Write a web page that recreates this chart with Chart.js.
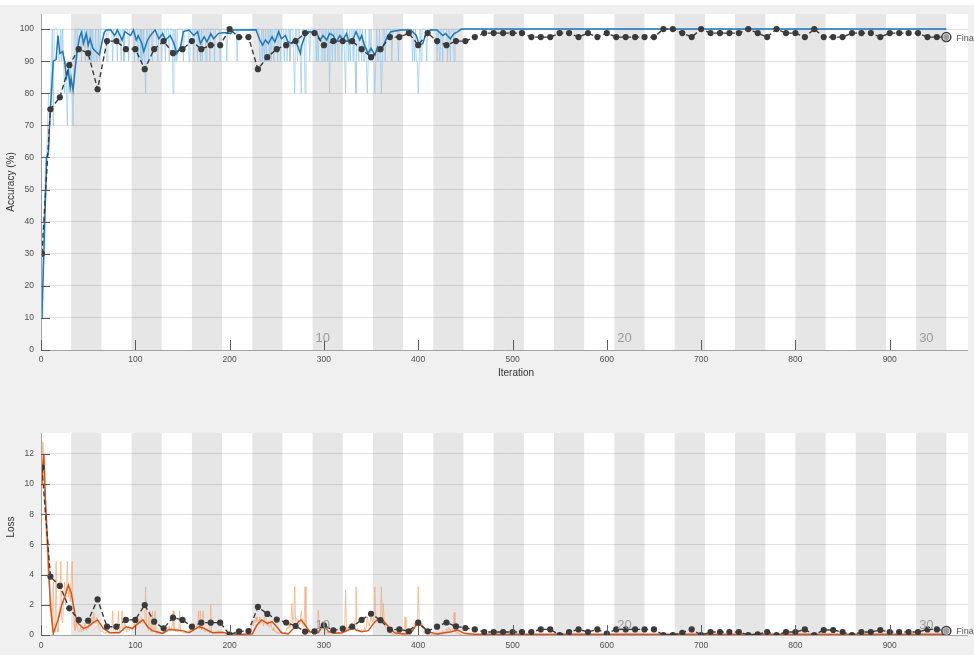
<!DOCTYPE html>
<html>
<head>
<meta charset="utf-8">
<script src="https://cdn.jsdelivr.net/npm/chart.js@4/dist/chart.umd.min.js"></script>
<style>
  html, body { margin: 0; padding: 0; background: #f0f0f0; }
  #wrap { position: relative; width: 974px; height: 655px; overflow: hidden; background: #f0f0f0; }
  #topStrip { position: absolute; left: 0; top: 0; width: 974px; height: 5px; background: #ffffff; }
  #accBox { position: absolute; left: 0; top: 0; width: 974px; height: 390px; }
  #lossBox { position: absolute; left: 0; top: 420px; width: 974px; height: 235px; }
</style>
</head>
<body>
<div id="wrap">
  <div id="topStrip"></div>
  <div id="accBox"><canvas id="accChart" width="974" height="390"></canvas></div>
  <div id="lossBox"><canvas id="lossChart" width="974" height="235"></canvas></div>
</div>
<script>
// ---- training setup ----
const itersPerEpoch = 32;
const numEpochs = 30;
const validationFrequency = 10;
const epochLabels = [10, 20, 30];

// ---- axis ticks ----
const iterTicks = [0, 100, 200, 300, 400, 500, 600, 700, 800, 900];
const accTicks = [0, 10, 20, 30, 40, 50, 60, 70, 80, 90, 100];
const lossTicks = [0, 2, 4, 6, 8, 10, 12];

// ---- mini-batch accuracy (%), one row per epoch, epochs 1-14 ----
const trainAccRawEpochs = [
  [10,30,40,50,60,60,70,80,80,80, 90,100,70,100,100,100,100,100,90,90, 100,90,100,90,80,90,80,70,90,80, 90,80],
  [80,70,90,100,100,90,100,100,100,100, 90,100,100,100,90,100,100,90,100,100, 90,90,100,90,90,100,90,90,100,90, 100,100],
  [100,100,100,100,100,90,100,100,100,100, 100,90,100,100,100,100,90,100,100,100, 90,100,100,90,100,100,100,100,90,100, 100,100],
  [100,100,90,100,100,100,90,100,100,90, 100,90,100,90,80,100,100,90,100,100, 100,90,100,100,100,100,100,90,100,100, 100,90],
  [100,100,100,90,100,100,100,90,100,100, 100,80,100,90,100,90,100,100,100,100, 100,100,90,100,100,100,100,100,90,100, 100,100],
  [100,90,100,100,100,90,100,100,90,100, 90,100,100,100,90,100,100,100,90,100, 100,100,100,90,100,100,100,100,100,90, 100,100],
  [100,100,100,100,90,100,100,100,100,100, 100,100,100,100,100,90,100,100,100,100, 100,100,100,100,100,100,100,100,100,100, 100,100],
  [100,100,100,100,100,100,100,90,90,100, 90,100,90,100,90,100,100,90,100,90, 100,100,90,100,100,100,90,100,100,90, 100,100],
  [100,90,100,100,90,100,100,90,100,100, 100,90,80,100,100,90,100,100,90,80, 100,100,100,80,100,100,100,100,90,100, 100,100],
  [100,100,100,90,100,90,100,100,100,90, 100,100,90,100,100,90,100,80,100,100, 90,100,100,90,100,100,90,100,100,100, 90,100],
  [100,90,80,100,100,90,100,90,100,100, 90,100,90,80,100,100,90,100,100,90, 100,90,90,100,90,80,90,100,90,100, 90,90],
  [90,80,90,100,90,90,100,90,80,90, 100,100,90,100,100,100,100,100,100,90, 100,100,100,100,100,100,90,100,100,100, 100,100],
  [100,100,100,100,100,100,100,100,100,90, 100,90,100,90,90,80,90,100,90,100, 100,100,100,100,90,100,100,100,100,100, 100,100],
  [100,100,100,90,100,100,90,100,100,90, 100,100,100,100,90,100,100,90,100,100, 100,90,100,100,100,100,100,100,100,100, 100,100]
];
// remaining iterations (449-960) as [value, count] runs
const trainAccRawRest = [[100, 512]];

// ---- mini-batch loss, one row per epoch, epochs 1-14 ----
const trainLossRawEpochs = [
  [10.2,12.8,11.5,9.0,7.0,6.0,4.5,3.5,3.0,2.5, 1.8,0.6,3.5,0.3,0.2,4.9,0.5,0.2,1.5,1.2, 4.9,1.0,0.8,2.5,3.5,2.0,3.0,4.9,2.5,3.0, 2.2,3.5],
  [4.9,2.0,1.0,0.3,0.5,0.8,0.3,0.2,0.3,0.5, 0.2,0.4,0.3,0.6,0.8,0.3,0.5,0.4,0.9,0.6, 1.0,1.2,0.8,1.5,1.0,0.8,1.2,1.0,0.6,0.4, 0.3,0.2],
  [0.3,0.2,0.1,0.2,0.1,0.2,0.3,0.1,0.2,0.1, 0.2,1.6,0.2,0.1,0.3,0.2,0.1,1.6,0.2,0.4, 0.6,1.6,0.3,0.5,0.8,0.4,0.2,0.5,0.6,0.3, 0.5,0.4],
  [0.3,0.5,0.8,0.6,0.4,0.9,0.7,1.0,0.8,1.2, 0.9,1.0,0.8,1.1,3.2,0.7,0.5,0.3,1.6,0.3, 0.2,1.6,0.3,0.2,1.6,0.2,0.1,0.2,0.1,0.2, 0.1,0.1],
  [0.1,0.2,0.1,0.3,0.2,0.5,0.4,0.6,0.3,0.5, 0.4,1.6,0.3,0.4,0.2,0.3,0.2,0.3,1.6,0.2, 0.3,0.2,0.1,0.2,0.1,0.2,0.1,0.2,0.3,0.2, 0.5,0.6],
  [0.5,0.8,0.6,0.4,0.6,0.5,1.6,0.4,1.6,0.3, 0.5,1.6,0.3,0.2,0.4,0.3,0.2,0.3,0.1,2.0, 0.2,0.1,0.2,0.1,0.1,0.2,0.1,0.3,0.2,0.1, 0.2,0.1],
  [0.1,0.1,0.0,0.1,0.3,0.1,0.0,0.1,0.0,0.0, 0.1,0.0,0.0,0.1,0.0,0.2,0.0,0.0,0.1,0.0, 0.0,0.0,0.1,0.0,0.0,0.1,0.0,0.0,0.0,0.1, 0.3,0.8],
  [0.6,1.0,0.8,1.2,0.9,1.0,0.7,1.2,0.8,0.9, 1.0,0.6,1.1,1.5,0.7,0.6,0.9,0.5,0.6,0.8, 0.4,0.3,0.5,0.2,0.3,0.1,0.2,0.1,0.1,0.2, 0.1,0.1],
  [0.1,0.2,0.1,0.3,0.5,0.4,0.7,0.5,0.9,2.1, 0.8,1.0,3.2,0.9,1.1,0.8,1.0,0.7,0.9,1.6, 0.8,0.6,0.5,3.2,0.6,0.4,0.2,0.1,0.2,0.1, 0.2,0.1],
  [0.1,0.2,0.1,0.3,0.2,1.65,0.3,0.5,0.6,0.9, 0.8,0.5,0.3,0.2,0.1,0.2,0.1,0.2,0.1,0.1, 0.2,0.1,0.1,0.2,0.1,0.1,0.2,0.1,0.1,0.2, 0.1,0.2],
  [0.2,0.4,3.0,0.3,0.5,0.4,0.6,0.3,0.8,0.5, 0.6,0.4,1.0,3.2,0.5,0.3,0.2,0.3,0.2,0.4, 0.3,0.2,0.5,0.3,0.6,1.2,0.8,0.6,0.9,1.2, 0.9,1.1],
  [1.0,3.2,1.2,0.9,1.1,0.8,1.0,1.3,3.2,1.0, 2.1,0.8,0.6,0.4,0.5,0.3,0.2,0.1,0.2,0.1, 0.1,0.0,0.1,0.1,0.0,0.1,0.1,0.0,0.1,0.1, 0.0,0.1],
  [0.1,1.2,0.1,0.0,0.1,0.1,0.0,0.1,0.2,0.5, 0.3,0.8,0.6,1.0,0.8,3.2,0.9,0.6,0.8,0.5, 0.3,0.2,0.1,0.2,0.1,0.0,0.1,0.0,0.1,0.0, 0.1,0.0],
  [0.0,0.1,0.0,0.1,0.0,0.1,0.2,0.1,0.0,0.3, 0.2,0.1,0.3,0.4,0.2,0.5,0.3,0.4,0.2,0.3, 0.4,1.5,0.3,0.2,0.1,0.2,0.1,0.0,0.1,0.0, 0.0,0.0]
];
const trainLossRawRest = [[0.02, 512]];

// ---- smoothed training accuracy: [iteration, %] ----
const trainAccSmooth = [
  [1,10],[3,30],[5,50],[6,60],[8,62],[9,70],[11,80],[13,90],[16,90.5],[18,98],[20,92.4],[23,93],[25,90],
  [27,85],[29,87],[31,82],[32,84.6],[34,81],[36,87],[38,92.4],[41,97.6],[43,99],[45,95.5],[48,98.6],
  [50,95],[52,97],[55,94],[58,93],[62,92],[64,95],[67,98.9],[69,99.7],[74,99.7],[78,98],[81,99.7],
  [86,96.6],[89,99.2],[95,98],[98,99.7],[101,96.6],[103,98],[107,95.5],[109,93],[113,96.6],[116,98],
  [121,99.7],[125,97],[129,98.6],[132,96.6],[137,98],[141,95.5],[144,92.4],[148,94.5],[151,99.2],
  [157,99.7],[162,98],[166,99.2],[169,95.5],[173,97.6],[176,96],[180,98.6],[183,97],[188,98.6],
  [194,98.9],[201,98.6],[204,99.7],[228,99.8],[232,96.6],[235,95],[238,96.6],[241,95.5],[245,97.6],
  [248,96],[252,99.2],[255,97],[259,98],[262,96],[266,95.5],[269,97],[273,94],[275,92.4],[276,94.5],
  [280,98],[283,99.2],[292,98.9],[296,96.6],[299,98],[303,96.6],[306,98.6],[310,98],[313,96],[317,98],
  [320,96.6],[324,98.6],[327,95.5],[331,97],[334,99.2],[338,96.6],[340,98],[343,95],[347,92.4],[350,94],
  [354,91.9],[357,94.5],[361,93.4],[364,95.5],[368,98],[371,99.2],[382,99.7],[392,99.7],[398,98],
  [401,95],[405,95.5],[408,98.6],[413,99.7],[420,99.7],[426,98],[429,98.6],[434,97],[438,98.6],
  [442,99.2],[446,100],[960,100]
];

// ---- smoothed training loss: [iteration, loss] ----
const trainLossSmooth = [
  [1,10],[2,11.3],[3,12.0],[5,8.5],[7,6.1],[10,1.9],[13,0.1],[18,1.0],[22,2.0],[25,2.5],[29,3.3],
  [32,2.8],[36,1.4],[39,0.8],[45,0.44],[50,0.55],[55,0.8],[60,1.0],[66,0.44],[73,0.15],[83,0.15],
  [90,0.55],[97,0.44],[103,0.77],[108,1.0],[113,0.55],[118,0.29],[129,0.11],[136,0.37],[143,0.33],
  [150,0.29],[157,0.15],[168,0.55],[175,0.37],[182,0.15],[192,0.18],[199,0.1],[210,0.04],[224,0.07],
  [229,0.66],[234,1.0],[240,0.77],[245,0.88],[250,0.55],[255,0.15],[262,0.07],[268,0.44],[273,0.88],
  [276,1.0],[280,0.66],[285,0.22],[294,0.15],[299,0.66],[305,0.22],[312,0.11],[319,0.15],[326,0.33],
  [331,0.55],[334,0.33],[340,0.22],[347,0.29],[354,0.88],[359,1.1],[364,0.88],[370,0.44],[375,0.15],
  [385,0.07],[392,0.11],[399,0.77],[405,0.55],[410,0.22],[420,0.07],[435,0.22],[442,0.33],[449,0.11],
  [460,0.05],[960,0.05]
];

// ---- validation accuracy (%) at iteration 1, then every validationFrequency iterations ----
const valAcc = [
  30,
  75, 78.75, 88.75, 93.75, 92.5, 81.25, 96.25, 96.25, 93.75, 93.75,
  87.5, 93.75, 96.25, 92.5, 93.75, 96.25, 93.75, 95, 95, 100,
  97.5, 97.5, 87.5, 91.25, 93.75, 95, 96.25, 98.75, 98.75, 95,
  96.25, 96.25, 96.25, 93.75, 91.25, 93.75, 97.5, 97.5, 98.75, 95,
  98.75, 96.25, 95, 96.25, 96.25, 97.5, 98.75, 98.75, 98.75, 98.75,
  98.75, 97.5, 97.5, 97.5, 98.75, 98.75, 97.5, 98.75, 97.5, 98.75,
  97.5, 97.5, 97.5, 97.5, 97.5, 100, 100, 98.75, 97.5, 100,
  98.75, 98.75, 98.75, 98.75, 100, 98.75, 97.5, 100, 98.75, 98.75,
  97.5, 100, 97.5, 97.5, 97.5, 98.75, 98.75, 98.75, 97.5, 98.75,
  98.75, 98.75, 98.75, 97.5, 97.5, 97.5
];

// ---- validation loss ----
const valLoss = [
  11.1,
  3.87, 3.25, 1.77, 1.0, 0.95, 2.36, 0.55, 0.55, 1.0, 1.0,
  1.99, 0.88, 0.44, 1.15, 1.0, 0.55, 0.82, 0.82, 0.82, 0.02,
  0.24, 0.26, 1.86, 1.4, 1.02, 0.83, 0.6, 0.23, 0.24, 0.64,
  0.31, 0.42, 0.55, 1.0, 1.41, 0.98, 0.35, 0.37, 0.25, 0.82,
  0.25, 0.55, 0.83, 0.57, 0.46, 0.37, 0.2, 0.2, 0.2, 0.2,
  0.2, 0.2, 0.37, 0.37, 0.0, 0.2, 0.37, 0.2, 0.37, 0.1,
  0.37, 0.37, 0.37, 0.37, 0.37, 0.0, 0.0, 0.15, 0.37, 0.0,
  0.2, 0.2, 0.2, 0.2, 0.0, 0.05, 0.2, 0.0, 0.2, 0.2,
  0.37, 0.0, 0.33, 0.33, 0.2, 0.0, 0.2, 0.2, 0.33, 0.2,
  0.2, 0.2, 0.2, 0.37, 0.37, 0.27
];

// ---- helpers ----
function expandRaw(epochRows, restRuns) {
  const pts = [];
  let it = 1;
  epochRows.forEach(row => row.forEach(v => { pts.push({ x: it, y: v }); it++; }));
  restRuns.forEach(([v, n]) => { for (let k = 0; k < n; k++) { pts.push({ x: it, y: v }); it++; } });
  return pts;
}
const pairsToPoints = arr => arr.map(([x, y]) => ({ x, y }));
const valPoints = vals => vals.map((v, i) => ({ x: i === 0 ? 1 : i * validationFrequency, y: v }));

const FONT = '"Liberation Sans", Arial, Helvetica, sans-serif';
const TICK_COLOR = '#4d4d4d';

// plot background, epoch shading, inward ticks, titles and labels
function progressDecor(cfg) {
  return {
    id: 'progressDecor',
    beforeDraw(chart) {
      const { ctx, chartArea: a, scales: { x } } = chart;
      ctx.save();
      ctx.fillStyle = '#ffffff';
      ctx.fillRect(a.left, a.top, a.right - a.left, a.bottom - a.top);
      ctx.fillStyle = '#e6e6e6';
      for (let e = 2; e <= numEpochs; e += 2) {
        const x0 = x.getPixelForValue((e - 1) * itersPerEpoch);
        const x1 = x.getPixelForValue(e * itersPerEpoch);
        ctx.fillRect(x0, a.top, x1 - x0, a.bottom - a.top);
      }
      ctx.restore();
    },
    afterDraw(chart) {
      const { ctx, chartArea: a, scales: { x, y } } = chart;
      ctx.save();
      // axis lines
      ctx.strokeStyle = '#a3a3a3';
      ctx.lineWidth = 1;
      ctx.beginPath();
      ctx.moveTo(a.left + 0.5, a.top);
      ctx.lineTo(a.left + 0.5, a.bottom);
      ctx.moveTo(a.left, a.bottom + 0.5);
      ctx.lineTo(a.right, a.bottom + 0.5);
      ctx.stroke();
      // inward tick marks
      ctx.strokeStyle = '#5a5a5a';
      ctx.beginPath();
      iterTicks.forEach(v => {
        const px = Math.round(x.getPixelForValue(v)) + 0.5;
        ctx.moveTo(px, a.bottom);
        ctx.lineTo(px, a.bottom - 10);
      });
      cfg.yTicks.forEach(v => {
        const py = Math.round(y.getPixelForValue(v)) + 0.5;
        ctx.moveTo(a.left, py);
        ctx.lineTo(a.left + 9, py);
      });
      ctx.stroke();
      // epoch numbers
      ctx.fillStyle = '#9a9a9a';
      ctx.font = '13px ' + FONT;
      ctx.textAlign = 'left';
      ctx.textBaseline = 'alphabetic';
      epochLabels.forEach(e => {
        const px = x.getPixelForValue((e - 1) * itersPerEpoch) + 3;
        ctx.fillText(String(e), px, a.bottom - cfg.epochLabelLift);
      });
      // final validation marker label
      const fin = cfg.finalPoint;
      ctx.fillStyle = '#555555';
      ctx.font = '9px ' + FONT;
      ctx.textBaseline = 'middle';
      ctx.fillText('Final', x.getPixelForValue(fin.x) + 10, y.getPixelForValue(fin.y) + 1);
      // axis titles
      ctx.fillStyle = '#333333';
      ctx.font = '10px ' + FONT;
      ctx.textAlign = 'center';
      ctx.save();
      ctx.translate(11, cfg.yTitleY);
      ctx.rotate(-Math.PI / 2);
      ctx.fillText(cfg.yTitle, 0, 0);
      ctx.restore();
      if (cfg.xTitle) {
        ctx.fillText(cfg.xTitle, 516, cfg.xTitleY);
      }
      ctx.restore();
    }
  };
}

function buildChart(canvasId, opt) {
  const finalPoint = opt.val[opt.val.length - 1];
  return new Chart(document.getElementById(canvasId), {
    type: 'line',
    data: {
      datasets: [
        {
          label: 'Final',
          data: [finalPoint],
          showLine: false,
          pointRadius: 4.5,
          pointBorderWidth: 1.5,
          pointBorderColor: '#3a3a3a',
          pointBackgroundColor: 'rgba(255,255,255,0.5)',
          order: 1
        },
        {
          label: 'Validation',
          data: opt.val,
          borderColor: '#3a3a3a',
          borderWidth: 1.4,
          borderDash: [5, 3],
          pointRadius: 3.1,
          pointBorderWidth: 0,
          pointBackgroundColor: '#3a3a3a',
          order: 2
        },
        {
          label: 'Smoothed',
          data: opt.smooth,
          borderColor: opt.smoothColor,
          borderWidth: 1.5,
          pointRadius: 0,
          order: 3
        },
        {
          label: 'Raw',
          data: opt.raw,
          borderColor: opt.rawColor,
          borderWidth: 1,
          pointRadius: 0,
          order: 4
        }
      ]
    },
    options: {
      responsive: false,
      animation: false,
      parsing: false,
      elements: { line: { tension: 0 } },
      layout: { padding: { top: opt.padTop, left: 0, right: 0, bottom: 0 } },
      plugins: { legend: { display: false }, tooltip: { enabled: false } },
      scales: {
        x: {
          type: 'linear',
          min: 0,
          max: 983,
          afterFit(s) { s.height = opt.xAxisHeight; },
          afterBuildTicks(s) { s.ticks = iterTicks.map(v => ({ value: v })); },
          grid: { display: false, drawTicks: false },
          border: { display: false },
          ticks: {
            autoSkip: false, maxRotation: 0, padding: opt.xLabelPad,
            color: TICK_COLOR, font: { family: FONT, size: 8.5 },
            callback: v => String(v)
          }
        },
        y: {
          type: 'linear',
          min: 0,
          max: opt.yMax,
          afterFit(s) { s.width = 41; },
          afterBuildTicks(s) { s.ticks = opt.yTicks.map(v => ({ value: v })); },
          grid: { color: 'rgba(0,0,0,0.12)', lineWidth: 1, drawTicks: false },
          border: { display: false },
          ticks: {
            padding: 7, color: TICK_COLOR, font: { family: FONT, size: 8.5 },
            callback: v => String(v)
          }
        }
      }
    },
    plugins: [progressDecor({
      yTicks: opt.yTicks,
      yTitle: opt.yTitle,
      yTitleY: opt.yTitleY,
      xTitle: opt.xTitle,
      xTitleY: opt.xTitleY,
      epochLabelLift: opt.epochLabelLift,
      finalPoint
    })]
  });
}

buildChart('accChart', {
  raw: expandRaw(trainAccRawEpochs, trainAccRawRest),
  smooth: pairsToPoints(trainAccSmooth),
  val: valPoints(valAcc),
  rawColor: 'rgba(150,200,235,0.7)',
  smoothColor: '#1f77b8',
  yMax: 104.7,
  yTicks: accTicks,
  padTop: 14,
  xAxisHeight: 40,
  xLabelPad: 5,
  yTitle: 'Accuracy (%)',
  yTitleY: 182,
  xTitle: 'Iteration',
  xTitleY: 373,
  epochLabelLift: 8.5
});

buildChart('lossChart', {
  raw: expandRaw(trainLossRawEpochs, trainLossRawRest),
  smooth: pairsToPoints(trainLossSmooth),
  val: valPoints(valLoss),
  rawColor: 'rgba(243,170,120,0.7)',
  smoothColor: '#d95319',
  yMax: 13.39,
  yTicks: lossTicks,
  padTop: 13,
  xAxisHeight: 20,
  xLabelPad: 6,
  yTitle: 'Loss',
  yTitleY: 107,
  xTitle: null,
  xTitleY: 0,
  epochLabelLift: 6.5
});
</script>
</body>
</html>
